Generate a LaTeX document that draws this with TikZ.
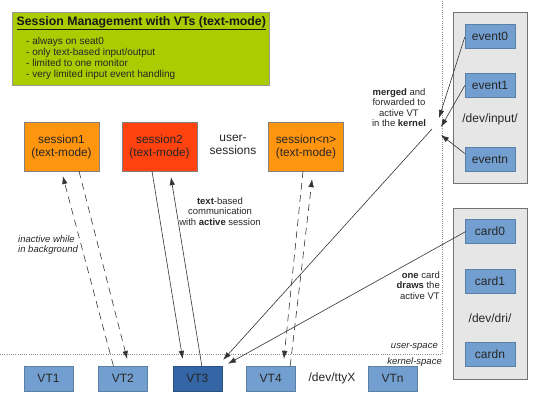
\documentclass[tikz,border=0pt]{standalone}
\usepackage{fontspec}
\setmainfont{Liberation Sans}
\usepackage{tikz}
\usetikzlibrary{positioning,arrows.meta}
\definecolor{infogreen}{HTML}{AACC00}
\definecolor{sessorange}{HTML}{FF950E}
\definecolor{sessred}{HTML}{FF420E}
\definecolor{vtblue}{HTML}{729FCF}
\definecolor{vtdark}{HTML}{3465A4}
\definecolor{groupgray}{HTML}{E6E6E6}

\begin{document}
\begin{tikzpicture}[x=1pt, y=-1pt,
>={Latex[length=8pt,width=5.5pt]},
infobox/.style={rectangle, draw=black!40, fill=infogreen, minimum width=257pt, minimum height=73pt, inner sep=0pt},
sessionnode/.style={rectangle, draw=black!50, fill=sessorange, minimum width=75pt, minimum height=49pt, inner sep=1pt, align=center, text=black!85, font=\fontsize{11.8}{13}\selectfont},
activesession/.style={sessionnode, fill=sessred},
vtnode/.style={rectangle, draw=vtblue!80!black, fill=vtblue, minimum width=49pt, minimum height=25pt, inner sep=0pt, text=black!85, font=\fontsize{12}{14}\selectfont},
activevt/.style={vtnode, fill=vtdark, draw=vtdark!80!black},
devnode/.style={vtnode, minimum width=50pt, minimum height=24pt},
groupbox/.style={rectangle, draw=black!55, fill=groupgray, minimum width=74pt, minimum height=171pt},
plainlabel/.style={align=center, text=black!85, inner sep=0pt, font=\fontsize{12}{13}\selectfont},
smalllabel/.style={align=center, text=black!85, inner sep=0pt, font=\fontsize{9.5}{10.5}\selectfont},
linkline/.style={draw=black!80, line width=0.6pt, ->},
dashline/.style={linkline, dash pattern=on 7pt off 5pt},
divider/.style={draw=black!45, line width=0.5pt, dash pattern=on 1pt off 1.2pt},
]
\useasboundingbox (0,0) rectangle (540,404);

%Info box
\node[infobox]      (info)      at (140.5,48.5)    {};
\node[anchor=west, inner sep=0pt, text=black!90, font=\fontsize{12.3}{13}\selectfont\bfseries]  (infotitle)  at (16.5,23)  {\underline{Session Management with VTs (text-mode)}};
\node[anchor=north west, inner sep=0pt, align=left, text=black!85, font=\fontsize{10}{10.8}\selectfont]  (infolist)  at (26,37.5)
  {- always on seat0\\- only text-based input/output\\- limited to one monitor\\- very limited input event handling};

%Separators
\draw[divider] (0,354) -- (442,354) -- (442,0);

%Sessions
\node[sessionnode]     (session1)   at (61.5,146.5)    {session1\\(text-mode)};
\node[activesession]   (session2)   at (159.5,146.5)   {session2\\(text-mode)};
\node[plainlabel]      (usersess)   at (233,145)       {user-\\sessions};
\node[sessionnode]     (sessionn)   at (306,146.5)     {session<n>\\(text-mode)};

%VTs
\node[vtnode]          (VT1)        at (48.5,378.5)        {VT1};
\node[vtnode]          (VT2)        [right=25pt of VT1]    {VT2};
\node[activevt]        (VT3)        [right=25pt of VT2]    {VT3};
\node[vtnode]          (VT4)        [right=24pt of VT3]    {VT4};
\node[plainlabel]      (ttyX)       at (332,378.5)         {/dev/ttyX};
\node[vtnode]          (VTn)        at (392.5,378.5)       {VTn};

%Input devices
\node[groupbox]        (inputbox)   at (490,97.5)      {};
\node[devnode]         (event0)     at (490,36)        {event0};
\node[devnode]         (event1)     at (490,85.5)      {event1};
\node[plainlabel]      (devinput)   at (490,119)       {/dev/input/};
\node[devnode]         (eventn)     at (490,159.5)     {eventn};

%Graphics cards
\node[groupbox]        (drmbox)     at (490,293.5)     {};
\node[devnode]         (card0)      at (490,231.5)     {card0};
\node[devnode]         (card1)      at (490,281)       {card1};
\node[plainlabel]      (devdri)     at (490,318)       {/dev/dri/};
\node[devnode]         (cardn)      at (490,354)       {cardn};

%Labels
\node[smalllabel]      (mergelabel)   at (399,107.5)   {\textbf{merged} and\\forwarded to\\active VT\\in the \textbf{kernel}};
\node[smalllabel, align=right, anchor=east]  (drawlabel)  at (440,285.5)  {\textbf{one} card\\\textbf{draws} the\\active VT};
\node[smalllabel]      (textlabel)    at (220,211.5)   {\textbf{text}-based\\communication\\with \textbf{active} session};
\node[smalllabel, align=left, anchor=west, font=\fontsize{9.5}{10.5}\selectfont\itshape]  (bglabel)  at (18,245)  {inactive while\\in background};
\node[smalllabel, anchor=east, font=\fontsize{9.5}{10.5}\selectfont\itshape]  (userspace)    at (438,347)  {user-space};
\node[smalllabel, anchor=east, font=\fontsize{9.5}{10.5}\selectfont\itshape]  (kernelspace)  at (442,362)  {kernel-space};

\coordinate (in0)   at (439,118);
\coordinate (in1)   at (441,127);
\coordinate (inn)   at (441,135);
\coordinate (merge) at (432,129);

%Lines
\draw[dashline, shorten >=5pt] ([xshift=-9.5pt]VT2.north) -- (session1.south);
\draw[dashline, shorten >=7pt] ([xshift=17.5pt]session1.south) -- ([xshift=6pt]VT2.north);
\draw[linkline, shorten >=7pt] ([xshift=-7.5pt]session2.south) -- ([xshift=-13.5pt]VT3.north);
\draw[linkline, shorten >=6pt] ([xshift=4.5pt]VT3.north) -- ([xshift=10.5pt]session2.south);
\draw[dashline, shorten >=7pt] ([xshift=-3pt]sessionn.south) -- ([xshift=12.5pt]VT4.north);
\draw[dashline, shorten >=8pt] ([xshift=19.5pt]VT4.north) -- ([xshift=7pt]sessionn.south);
\draw[linkline] ([yshift=-1pt]event0.west) -- (in0);
\draw[linkline] (event1.west) -- (in1);
\draw[linkline] ([yshift=6pt]eventn.west) -- (inn);
\draw[linkline, shorten >=8pt] (merge) -- ([xshift=20.5pt]VT3.north);
\draw[linkline] ([xshift=1pt]card0.west) -- ([xshift=6pt,yshift=2pt]VT3.north east);
\end{tikzpicture}
\end{document}
